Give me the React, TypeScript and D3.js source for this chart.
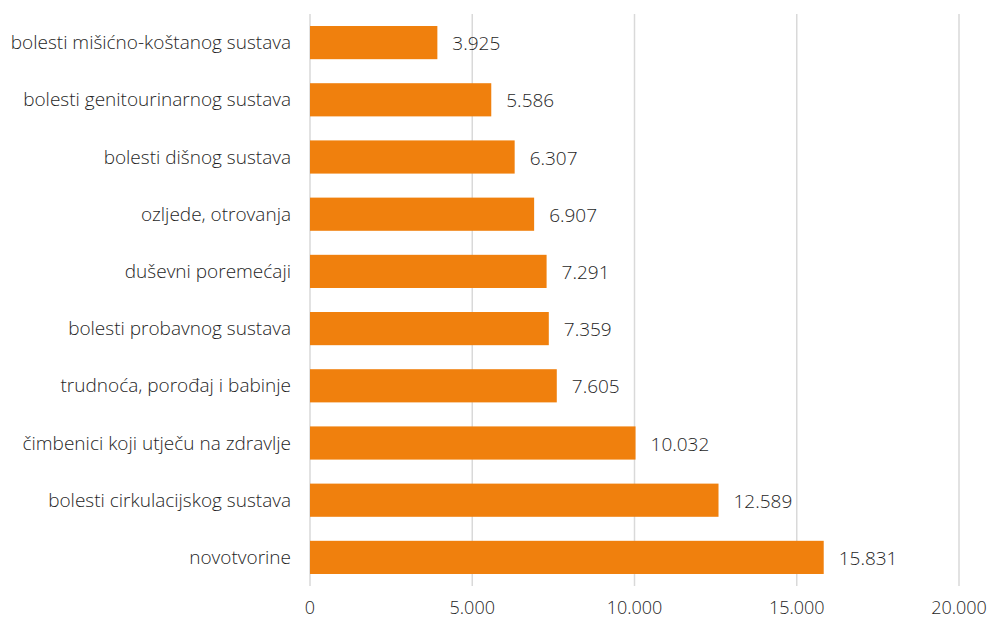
import React from "react";
import * as d3 from "d3";

const categories = [
  "bolesti mišićno-koštanog sustava",
  "bolesti genitourinarnog sustava",
  "bolesti dišnog sustava",
  "ozljede, otrovanja",
  "duševni poremećaji",
  "bolesti probavnog sustava",
  "trudnoća, porođaj i babinje",
  "čimbenici koji utječu na zdravlje",
  "bolesti cirkulacijskog sustava",
  "novotvorine",
];
const values = [3925, 5586, 6307, 6907, 7291, 7359, 7605, 10032, 12589, 15831];
const xTicks = [0, 5000, 10000, 15000, 20000];

const W = 991;
const H = 621;
const left = 310;
const right = 959;
const top = 14;
const bottom = 586;

const fmt = (v: number) => d3.format(",")(v).replace(/,/g, ".");

export default function App() {
  const x = d3.scaleLinear().domain([0, 20000]).range([left, right]);
  const y = d3
    .scaleBand<string>()
    .domain(categories)
    .range([top, bottom])
    .paddingInner(0.42)
    .paddingOuter(0.21);
  const font = "'Open Sans', 'Segoe UI', sans-serif";
  const fs = 19;
  const col = "#1f1f1f";
  return (
    <svg
      width={W}
      height={H}
      style={{ position: "absolute", left: 0, top: 0, background: "#fff" }}
      fontFamily={font}
    >
      {xTicks.map((t) => (
        <g key={t}>
          <line x1={x(t)} x2={x(t)} y1={top} y2={bottom} stroke="#d9d9d9" strokeWidth={1.5} />
          <text
            x={x(t)}
            y={614}
            textAnchor="middle"
            fontSize={18}
            fontWeight={300}
            fill={col}
          >
            {fmt(t)}
          </text>
        </g>
      ))}
      {categories.map((c, i) => {
        const yy = y(c)!;
        const bh = y.bandwidth();
        return (
          <g key={c}>
            <rect x={x(0)} y={yy} width={x(values[i]) - x(0)} height={bh} fill="#F0800D" />
            <text
              x={291}
              y={yy + bh / 2}
              dy="0.35em"
              textAnchor="end"
              fontSize={fs}
              fontWeight={300}
              fill={col}
            >
              {c}
            </text>
            <text
              x={x(values[i]) + 15}
              y={yy + bh / 2 + 1}
              dy="0.35em"
              textAnchor="start"
              fontSize={fs}
              fontWeight={300}
              fill={col}
            >
              {fmt(values[i])}
            </text>
          </g>
        );
      })}
    </svg>
  );
}
